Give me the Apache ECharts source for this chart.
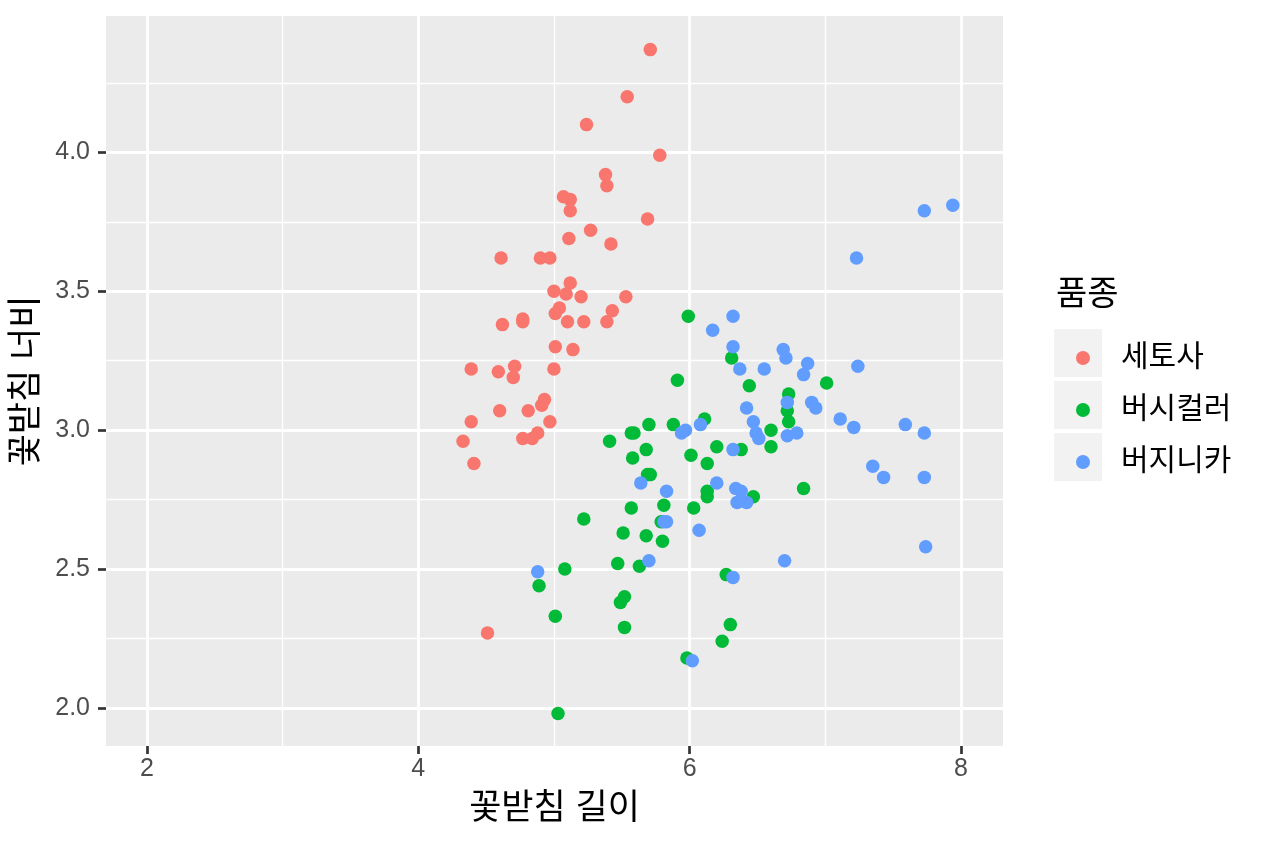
<!DOCTYPE html>
<html>
<head>
<meta charset="utf-8">
<script src="https://cdn.jsdelivr.net/npm/echarts@6/dist/echarts.min.js"></script>
<style>
html,body{margin:0;padding:0;background:#fff;}
#chart{width:1264px;height:843px;}
</style>
</head>
<body>
<div id="chart"></div>
<script>
// ---- data (sepal length, sepal width) ----
const seriesNames = ['세토사', '버시컬러', '버지니카'];
const setosa = [
[5.71,4.37],[5.54,4.20],[5.24,4.10],[5.78,3.99],[5.38,3.92],[5.39,3.88],[5.07,3.84],[5.12,3.83],
[5.12,3.79],[5.69,3.76],[5.27,3.72],[5.11,3.69],[5.42,3.67],[4.61,3.62],[4.90,3.62],[4.97,3.62],
[5.12,3.53],[5.00,3.50],[5.09,3.49],[5.20,3.48],[5.53,3.48],[5.04,3.44],[5.01,3.42],[5.10,3.39],
[5.22,3.39],[5.43,3.43],[5.39,3.39],[4.62,3.38],[4.77,3.40],[4.77,3.39],[5.01,3.30],[5.14,3.29],
[4.39,3.22],[4.59,3.21],[4.71,3.23],[4.70,3.19],[5.00,3.22],[4.93,3.11],[4.91,3.09],[4.60,3.07],
[4.81,3.07],[4.97,3.03],[4.39,3.03],[4.33,2.96],[4.77,2.97],[4.84,2.97],[4.88,2.99],[4.41,2.88],
[4.51,2.27]
];
const versicolor = [
[5.41,2.96],[5.57,2.99],[5.59,2.99],[5.70,3.02],[5.88,3.02],[6.20,2.94],[5.68,2.93],[5.58,2.90],
[6.01,2.91],[6.13,2.88],[5.69,2.84],[5.71,2.84],[6.13,2.78],[6.13,2.76],[5.81,2.73],[6.03,2.72],
[5.57,2.72],[5.22,2.68],[5.79,2.67],[5.51,2.63],[5.68,2.62],[5.80,2.60],[5.47,2.52],[5.63,2.51],
[5.08,2.50],[4.89,2.44],[5.52,2.40],[5.49,2.38],[5.01,2.33],[5.52,2.29],[6.27,2.48],[6.30,2.30],
[6.24,2.24],[5.98,2.18],[5.03,1.98],[5.99,3.41],[6.31,3.26],[7.01,3.17],[5.91,3.18],[6.44,3.16],
[6.73,3.13],[6.72,3.07],[6.73,3.03],[6.60,3.00],[6.60,2.94],[6.38,2.93],[6.11,3.04],[6.47,2.76],
[6.84,2.79]
];
const virginica = [
[5.94,2.99],[5.97,3.00],[6.08,3.02],[6.20,2.81],[5.64,2.81],[5.83,2.78],[5.81,2.67],[5.83,2.67],
[6.07,2.64],[5.70,2.53],[4.88,2.49],[6.32,2.47],[6.02,2.17],[6.32,3.41],[6.17,3.36],[6.32,3.30],
[6.69,3.29],[6.71,3.26],[6.87,3.24],[6.84,3.20],[6.37,3.22],[6.55,3.22],[6.72,3.10],[6.90,3.10],
[6.93,3.08],[6.42,3.08],[6.47,3.03],[6.49,2.99],[6.51,2.97],[6.72,2.98],[6.79,2.99],[6.32,2.93],
[6.34,2.79],[6.38,2.78],[6.35,2.74],[6.42,2.74],[6.70,2.53],[7.73,3.79],[7.94,3.81],[7.23,3.62],
[7.24,3.23],[7.11,3.04],[7.21,3.01],[7.59,3.02],[7.73,2.99],[7.35,2.87],[7.43,2.83],[7.73,2.83],
[7.74,2.58]
];
const xMajorTicks = [2, 4, 6, 8];
const xMinorTicks = [3, 5, 7];
const yMajorTicks = [2.0, 2.5, 3.0, 3.5, 4.0];
const yMinorTicks = [2.25, 2.75, 3.25, 3.75, 4.25];
const xRange = [1.698, 8.31];
const yRange = [1.863, 4.491];

const colors = ['#F8766D', '#00BA38', '#619CFF'];
const FONT = "'Liberation Sans', 'Noto Sans CJK KR', sans-serif";

const chart = echarts.init(document.getElementById('chart'), null, {renderer: 'canvas'});

function makeX(ticks, major) {
  return {
    type: 'value', gridIndex: 0, min: xRange[0], max: xRange[1],
    position: major ? 'bottom' : 'top',
    axisLine: {show: major, lineStyle: {color: 'rgba(255,255,255,0)', width: 1}},
    axisTick: {show: major, customValues: ticks, length: 8, lineStyle: {color: '#333333', width: 2.7}},
    axisLabel: {show: major, customValues: ticks, fontSize: 25, color: '#4D4D4D', fontFamily: FONT, margin: 11},
    splitLine: {show: true, lineStyle: {color: '#FFFFFF', width: major ? 2.8 : 1.4}},
    name: major ? '꽃받침 길이' : '',
    nameLocation: 'middle', nameGap: 46,
    nameTextStyle: {fontSize: 35, color: '#000', fontFamily: FONT}
  };
}
function makeY(ticks, major) {
  return {
    type: 'value', gridIndex: 0, min: yRange[0], max: yRange[1],
    position: major ? 'left' : 'right',
    axisLine: {show: major, lineStyle: {color: 'rgba(255,255,255,0)', width: 1}},
    axisTick: {show: major, customValues: ticks, length: 8, lineStyle: {color: '#333333', width: 2.7}},
    axisLabel: {show: major, customValues: ticks, fontSize: 25, color: '#4D4D4D', fontFamily: FONT, margin: 16,
      formatter: v => Number(v).toFixed(1)},
    splitLine: {show: true, lineStyle: {color: '#FFFFFF', width: major ? 2.8 : 1.4}},
    name: major ? '꽃받침 너비' : '',
    nameLocation: 'middle', nameGap: 61, nameRotate: 90,
    nameTextStyle: {fontSize: 35, color: '#000', fontFamily: FONT}
  };
}

const dataSets = [setosa, versicolor, virginica];

const option = {
  animation: false,
  backgroundColor: '#FFFFFF',
  textStyle: {fontFamily: FONT},
  tooltip: {show: false},
  grid: {left: 106, right: 261, top: 16, bottom: 97, show: true, backgroundColor: '#EBEBEB', borderWidth: 0, containLabel: false},
  title: {text: '품종', left: 1051, top: 274, textStyle: {fontSize: 34, fontWeight: 'normal', color: '#000', fontFamily: FONT}},
  legend: {
    orient: 'vertical', left: 1071, top: 329, icon: 'circle',
    itemWidth: 14, itemHeight: 14, itemGap: 4, selectedMode: false,
    data: seriesNames,
    textStyle: {fontSize: 30, color: '#000', fontFamily: FONT, lineHeight: 48, padding: [0, 0, 0, 26]}
  },
  graphic: [0, 1, 2].map(i => ({
    type: 'rect', left: 1054, top: 329 + i * 52, z: -1, silent: true,
    shape: {width: 48, height: 48}, style: {fill: '#F2F2F2'}
  })),
  xAxis: [makeX(xMajorTicks, true), makeX(xMinorTicks, false)],
  yAxis: [makeY(yMajorTicks, true), makeY(yMinorTicks, false)],
  series: dataSets.map((d, i) => ({
    name: seriesNames[i], type: 'scatter', xAxisIndex: 0, yAxisIndex: 0,
    data: d, symbolSize: 13.5,
    itemStyle: {color: colors[i], opacity: 1},
    emphasis: {disabled: true}
  }))
};
chart.setOption(option);
</script>
</body>
</html>
